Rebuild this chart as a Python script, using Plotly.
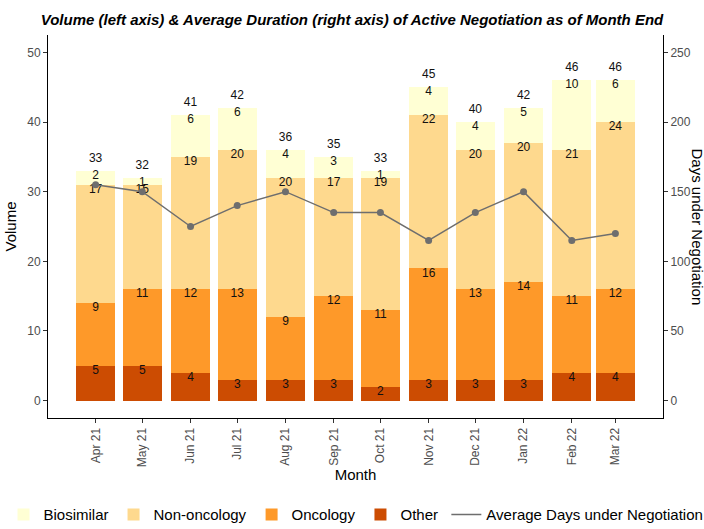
import plotly.graph_objects as go
import pandas as pd

months = ["2021-04-01", "2021-05-01", "2021-06-01", "2021-07-01", "2021-08-01", "2021-09-01",
          "2021-10-01", "2021-11-01", "2021-12-01", "2022-01-01", "2022-02-01", "2022-03-01"]
tick_labels = ["Apr 21", "May 21", "Jun 21", "Jul 21", "Aug 21", "Sep 21",
               "Oct 21", "Nov 21", "Dec 21", "Jan 22", "Feb 22", "Mar 22"]
other = [5, 5, 4, 3, 3, 3, 2, 3, 3, 3, 4, 4]
oncology = [9, 11, 12, 13, 9, 12, 11, 16, 13, 14, 11, 12]
non_oncology = [17, 15, 19, 20, 20, 17, 19, 22, 20, 20, 21, 24]
biosimilar = [2, 1, 6, 6, 4, 3, 1, 4, 4, 5, 10, 6]
avg_days = [155, 150, 125, 140, 150, 135, 135, 115, 135, 150, 115, 120]

colors = {"Biosimilar": "#FFFFD4", "Non-oncology": "#FED98E", "Oncology": "#FE9929", "Other": "#CC4C02"}

x = pd.to_datetime(months)
day_ms = 86400000
bar_w = 0.9 * 28 * day_ms

FONT = "Liberation Sans, Arial, sans-serif"
fig = go.Figure()

series = [("Other", other), ("Oncology", oncology), ("Non-oncology", non_oncology), ("Biosimilar", biosimilar)]
legend_rank = {"Biosimilar": 1, "Non-oncology": 2, "Oncology": 3, "Other": 4}
for name, vals in series:
    fig.add_trace(go.Bar(x=x, y=vals, name=name, marker=dict(color=colors[name], line=dict(width=0)),
                         width=[bar_w] * len(vals), legendrank=legend_rank[name], legend="legend"))

# segment labels
cum = [0] * len(months)
lab_x, lab_y, lab_t = [], [], []
for name, vals in series:
    for i, v in enumerate(vals):
        cum[i] += v
        lab_x.append(x[i]); lab_y.append(cum[i] - 0.75); lab_t.append(str(v))
totals = cum
for i, t in enumerate(totals):
    lab_x.append(x[i]); lab_y.append(t + 1.75); lab_t.append(str(t))
fig.add_trace(go.Scatter(x=lab_x, y=lab_y, text=lab_t, mode="text", textposition="middle center",
                         textfont=dict(family=FONT, size=12, color="#111111"), showlegend=False,
                         hoverinfo="skip"))

fig.add_trace(go.Scatter(x=x, y=avg_days, yaxis="y2", mode="lines", name="Average Days under Negotiation",
                         line=dict(color="#6e6e6e", width=1.5), legend="legend2"))
fig.add_trace(go.Scatter(x=x, y=avg_days, yaxis="y2", mode="markers", showlegend=False,
                         marker=dict(color="#6e6e6e", size=7)))

x0 = x[0] - pd.Timedelta(days=30.6)
x1 = x[-1] + pd.Timedelta(days=30.6)

legend_common = dict(orientation="h", xref="container", yref="container", xanchor="left",
                     y=0.027, yanchor="middle", font=dict(size=15, color="#000"), traceorder="normal",
                     itemwidth=30, bgcolor="rgba(0,0,0,0)")

fig.update_layout(
    width=704, height=529,
    margin=dict(l=48, r=41, t=35, b=111, autoexpand=False),
    paper_bgcolor="white", plot_bgcolor="white",
    barmode="stack", bargap=0,
    font=dict(family=FONT, color="#000000"),
    title=dict(text="<b><i>Volume (left axis) & Average Duration (right axis) of Active Negotiation as of Month End</i></b>",
               x=0.5, xanchor="center", y=0.962, yanchor="middle", font=dict(size=15, family=FONT, color="#000")),
    xaxis=dict(type="date", range=[x0, x1], tickvals=x, ticktext=tick_labels, tickangle=-90, automargin=False,
               showline=True, linecolor="#000", linewidth=1, ticks="outside", ticklen=4, tickcolor="#333",
               tickfont=dict(size=12, color="#4d4d4d"), showgrid=False, zeroline=False,
               title=dict(text="Month", font=dict(size=15, color="#000"), standoff=2)),
    yaxis=dict(range=[-2.5, 52.5], tickvals=[0, 10, 20, 30, 40, 50], showline=True, linecolor="#000", linewidth=1,
               automargin=False,
               ticks="outside", ticklen=4, tickcolor="#333", tickfont=dict(size=12, color="#4d4d4d"),
               showgrid=False, zeroline=False, title=dict(text="Volume", font=dict(size=15, color="#000"), standoff=6)),
    yaxis2=dict(range=[-12.5, 262.5], overlaying="y", side="right", tickvals=[0, 50, 100, 150, 200, 250],
                automargin=False,
                showline=True, linecolor="#000", linewidth=1, ticks="outside", ticklen=4, tickcolor="#333",
                tickfont=dict(size=12, color="#4d4d4d"), showgrid=False, zeroline=False),
    legend=dict(x=0.005, **legend_common),
    legend2=dict(x=0.634, **legend_common),
    annotations=[dict(text="Days under Negotiation", textangle=90, xref="paper", yref="paper",
                      x=1.0553, y=0.5, xanchor="center", yanchor="middle", showarrow=False,
                      font=dict(size=15, color="#000"))],
)

fig.write_html("out.html", config={"displayModeBar": False},
               post_script="document.body.style.margin='0';")
